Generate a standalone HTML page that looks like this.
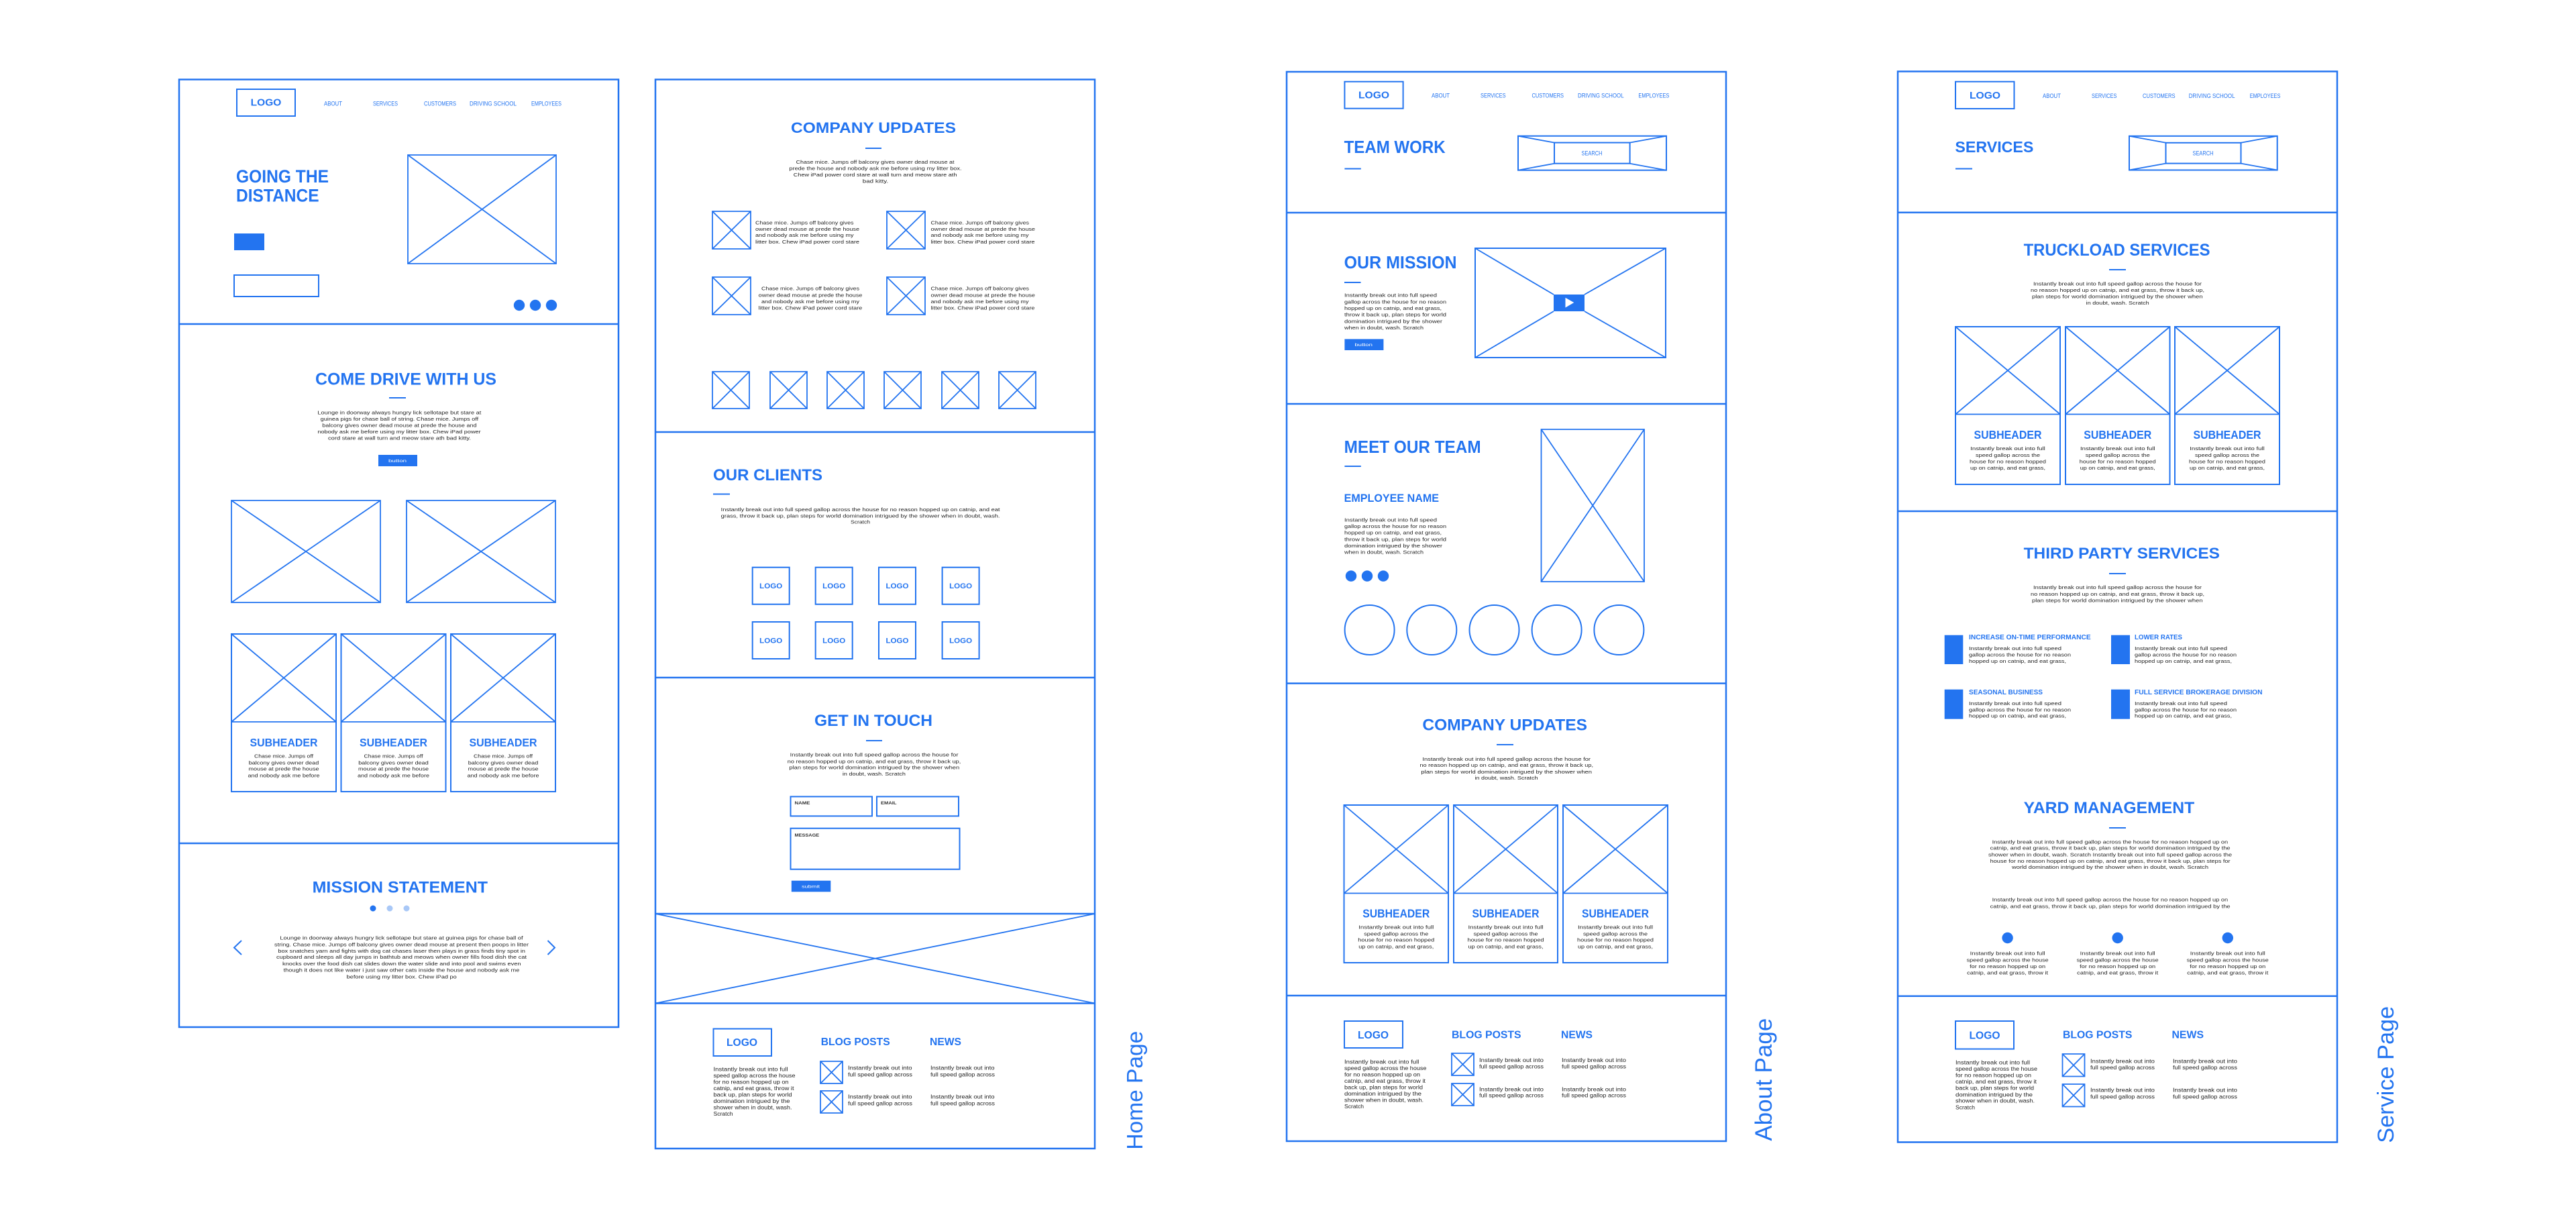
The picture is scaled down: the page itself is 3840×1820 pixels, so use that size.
<!DOCTYPE html>
<html>
<head>
<meta charset="utf-8">
<style>
html,body{margin:0;padding:0;background:#fff;}
body{width:3840px;height:1820px;overflow:hidden;}
svg{display:block;}
.p{fill:none;stroke:#2374f0;stroke-width:2.5}
.b{fill:none;stroke:#2374f0;stroke-width:2}
.x{fill:none;stroke:#2374f0;stroke-width:1.8}
.f{fill:#2374f0;stroke:none}
text{font-family:"Liberation Sans",Arial,sans-serif}
.h{font-weight:bold;fill:#2374f0}
.n{fill:#2374f0;font-size:9.5px}
.t{fill:#222;font-size:7.5px}
.ft{fill:#222;font-size:8px}
.w{fill:#fff;font-size:6.5px}
.lb{fill:#333;font-size:6px;font-weight:bold}
.lab{fill:#2374f0;font-weight:normal}
</style>
</head>
<body>
<svg width="3840" height="1820" viewBox="0 0 3840 1820" xmlns="http://www.w3.org/2000/svg">
<rect x="0" y="0" width="3840" height="1820" fill="#fff"/>

<!-- ================= HOME PAGE PANEL 1 ================= -->
<rect class="p" x="267" y="118.5" width="655" height="1412.5"/>
<line class="p" x1="267" y1="483" x2="922" y2="483"/>
<line class="p" x1="267" y1="1257" x2="922" y2="1257"/>

<rect class="b" x="353" y="133" width="87" height="40"/>
<text class="h" x="373.7" y="157.7" font-size="14.5" textLength="45.6" lengthAdjust="spacingAndGlyphs">LOGO</text>
<text class="n" x="483" y="157.5" textLength="27" lengthAdjust="spacingAndGlyphs">ABOUT</text>
<text class="n" x="556" y="157.5" textLength="37" lengthAdjust="spacingAndGlyphs">SERVICES</text>
<text class="n" x="632" y="157.5" textLength="48" lengthAdjust="spacingAndGlyphs">CUSTOMERS</text>
<text class="n" x="700" y="157.5" textLength="70" lengthAdjust="spacingAndGlyphs">DRIVING SCHOOL</text>
<text class="n" x="792" y="157.5" textLength="45" lengthAdjust="spacingAndGlyphs">EMPLOYEES</text>

<text class="h" x="352" y="272" font-size="27" textLength="138" lengthAdjust="spacingAndGlyphs">GOING THE</text>
<text class="h" x="352" y="300.5" font-size="27" textLength="123.6" lengthAdjust="spacingAndGlyphs">DISTANCE</text>
<rect class="f" x="349" y="348" width="45" height="25"/>
<rect class="b" x="349" y="410" width="126" height="32"/>
<path class="x" d="M608 231h221v162h-221zl221 162m0-162l-221 162"/>
<circle class="f" cx="774" cy="455" r="8.2"/>
<circle class="f" cx="798" cy="455" r="8.2"/>
<circle class="f" cx="822" cy="455" r="8.2"/>

<text class="h" x="470" y="573.5" font-size="25" textLength="270" lengthAdjust="spacingAndGlyphs">COME DRIVE WITH US</text>
<rect class="f" x="580" y="592" width="25" height="2"/>
<text class="t" x="473.4" y="617.5" textLength="244" lengthAdjust="spacingAndGlyphs">Lounge in doorway always hungry lick sellotape but stare at</text>
<text class="t" x="477.7" y="627" textLength="235.5" lengthAdjust="spacingAndGlyphs">guinea pigs for chase ball of string. Chase mice. Jumps off</text>
<text class="t" x="480.3" y="636.5" textLength="230.3" lengthAdjust="spacingAndGlyphs">balcony gives owner dead mouse at prede the house and</text>
<text class="t" x="473.4" y="646" textLength="243.3" lengthAdjust="spacingAndGlyphs">nobody ask me before using my litter box. Chew iPad power</text>
<text class="t" x="489" y="655.5" textLength="213" lengthAdjust="spacingAndGlyphs">cord stare at wall turn and meow stare ath bad kitty.</text>
<rect class="f" x="564" y="678" width="58" height="17"/>
<text class="w" x="579" y="689" textLength="27" lengthAdjust="spacingAndGlyphs">button</text>

<path class="x" d="M345 746h222v152h-222zl222 152m0-152l-222 152"/>
<path class="x" d="M606 746h222v152h-222zl222 152m0-152l-222 152"/>

<rect class="b" x="345" y="945" width="156" height="235"/>
<rect class="b" x="508.5" y="945" width="156" height="235"/>
<rect class="b" x="672" y="945" width="156" height="235"/>
<path class="x" d="M345 945h156v131h-156zl156 131m0-131l-156 131"/>
<path class="x" d="M508.5 945h156v131h-156zl156 131m0-131l-156 131"/>
<path class="x" d="M672 945h156v131h-156zl156 131m0-131l-156 131"/>
<text class="h" x="372.5" y="1112.5" font-size="17" textLength="101" lengthAdjust="spacingAndGlyphs">SUBHEADER</text>
<text class="h" x="536" y="1112.5" font-size="17" textLength="101" lengthAdjust="spacingAndGlyphs">SUBHEADER</text>
<text class="h" x="699.5" y="1112.5" font-size="17" textLength="101" lengthAdjust="spacingAndGlyphs">SUBHEADER</text>
<text class="t" x="379" y="1129.5" textLength="88" lengthAdjust="spacingAndGlyphs">Chase mice. Jumps off</text>
<text class="t" x="370.75" y="1139.5" textLength="104.5" lengthAdjust="spacingAndGlyphs">balcony gives owner dead</text>
<text class="t" x="370.5" y="1148.5" textLength="105" lengthAdjust="spacingAndGlyphs">mouse at prede the house</text>
<text class="t" x="369.5" y="1158.5" textLength="107" lengthAdjust="spacingAndGlyphs">and nobody ask me before</text>
<text class="t" x="542.5" y="1129.5" textLength="88" lengthAdjust="spacingAndGlyphs">Chase mice. Jumps off</text>
<text class="t" x="534.25" y="1139.5" textLength="104.5" lengthAdjust="spacingAndGlyphs">balcony gives owner dead</text>
<text class="t" x="534" y="1148.5" textLength="105" lengthAdjust="spacingAndGlyphs">mouse at prede the house</text>
<text class="t" x="533" y="1158.5" textLength="107" lengthAdjust="spacingAndGlyphs">and nobody ask me before</text>
<text class="t" x="706" y="1129.5" textLength="88" lengthAdjust="spacingAndGlyphs">Chase mice. Jumps off</text>
<text class="t" x="697.75" y="1139.5" textLength="104.5" lengthAdjust="spacingAndGlyphs">balcony gives owner dead</text>
<text class="t" x="697.5" y="1148.5" textLength="105" lengthAdjust="spacingAndGlyphs">mouse at prede the house</text>
<text class="t" x="696.5" y="1158.5" textLength="107" lengthAdjust="spacingAndGlyphs">and nobody ask me before</text>

<text class="h" x="465.6" y="1330.5" font-size="24" textLength="261.4" lengthAdjust="spacingAndGlyphs">MISSION STATEMENT</text>
<circle class="f" cx="556" cy="1354" r="4.5"/>
<circle cx="581" cy="1354" r="4.5" fill="#a9c8f7"/>
<circle cx="606" cy="1354" r="4.5" fill="#a9c8f7"/>
<polyline class="b" points="360,1402 349,1412.5 360,1423"/>
<polyline class="b" points="816.5,1402 827,1412.5 816.5,1423"/>
<text class="t" x="417.4" y="1400.7" textLength="362.2" lengthAdjust="spacingAndGlyphs">Lounge in doorway always hungry lick sellotape but stare at guinea pigs for chase ball of</text>
<text class="t" x="409" y="1410.5" textLength="379" lengthAdjust="spacingAndGlyphs">string. Chase mice. Jumps off balcony gives owner dead mouse at present then poops in litter</text>
<text class="t" x="414.4" y="1419.8" textLength="368.6" lengthAdjust="spacingAndGlyphs">box snatches yarn and fights with dog cat chases laser then plays in grass finds tiny spot in</text>
<text class="t" x="412" y="1429.2" textLength="373" lengthAdjust="spacingAndGlyphs">cupboard and sleeps all day jumps in bathtub and meows when owner fills food dish the cat</text>
<text class="t" x="421" y="1439.1" textLength="355.5" lengthAdjust="spacingAndGlyphs">knocks over the food dish cat slides down the water slide and into pool and swims even</text>
<text class="t" x="422.6" y="1448.5" textLength="351.8" lengthAdjust="spacingAndGlyphs">though it does not like water i just saw other cats inside the house and nobody ask me</text>
<text class="t" x="516.7" y="1458.3" textLength="164" lengthAdjust="spacingAndGlyphs">before using my litter box. Chew iPad po</text>

<!-- ================= HOME PAGE PANEL 2 ================= -->
<rect class="p" x="977" y="118.5" width="655" height="1593.5"/>
<line class="p" x1="977" y1="644" x2="1632" y2="644"/>
<line class="p" x1="977" y1="1010" x2="1632" y2="1010"/>
<line class="p" x1="977" y1="1362" x2="1632" y2="1362"/>
<line class="p" x1="977" y1="1495.5" x2="1632" y2="1495.5"/>
<path class="x" d="M977 1362L1632 1495.5M1632 1362L977 1495.5"/>

<text class="h" x="1179" y="198" font-size="22.5" textLength="246" lengthAdjust="spacingAndGlyphs">COMPANY UPDATES</text>
<rect class="f" x="1290" y="220" width="24" height="2"/>
<text class="t" x="1186.6" y="244" textLength="235.9" lengthAdjust="spacingAndGlyphs">Chase mice. Jumps off balcony gives owner dead mouse at</text>
<text class="t" x="1176.4" y="253.5" textLength="257.2" lengthAdjust="spacingAndGlyphs">prede the house and nobody ask me before using my litter box.</text>
<text class="t" x="1182.8" y="263" textLength="243.6" lengthAdjust="spacingAndGlyphs">Chew iPad power cord stare at wall turn and meow stare ath</text>
<text class="t" x="1285.8" y="272.5" textLength="38.4" lengthAdjust="spacingAndGlyphs">bad kitty.</text>

<path class="x" d="M1062 315h57v56h-57zl57 56m0-56l-57 56"/>
<path class="x" d="M1322 315h57v56h-57zl57 56m0-56l-57 56"/>
<path class="x" d="M1062 413h57v56h-57zl57 56m0-56l-57 56"/>
<path class="x" d="M1322 413h57v56h-57zl57 56m0-56l-57 56"/>

<text class="t" x="1126" y="334.3" textLength="146.5" lengthAdjust="spacingAndGlyphs">Chase mice. Jumps off balcony gives</text>
<text class="t" x="1126" y="343.9" textLength="155" lengthAdjust="spacingAndGlyphs">owner dead mouse at prede the house</text>
<text class="t" x="1126" y="353.2" textLength="146.5" lengthAdjust="spacingAndGlyphs">and nobody ask me before using my</text>
<text class="t" x="1126" y="362.8" textLength="155" lengthAdjust="spacingAndGlyphs">litter box. Chew iPad power cord stare</text>
<text class="t" x="1387.5" y="334.3" textLength="146.5" lengthAdjust="spacingAndGlyphs">Chase mice. Jumps off balcony gives</text>
<text class="t" x="1387.5" y="343.9" textLength="155.5" lengthAdjust="spacingAndGlyphs">owner dead mouse at prede the house</text>
<text class="t" x="1387.5" y="353.2" textLength="146" lengthAdjust="spacingAndGlyphs">and nobody ask me before using my</text>
<text class="t" x="1387.5" y="362.8" textLength="155" lengthAdjust="spacingAndGlyphs">litter box. Chew iPad power cord stare</text>
<text class="t" x="1135" y="432.5" textLength="146" lengthAdjust="spacingAndGlyphs">Chase mice. Jumps off balcony gives</text>
<text class="t" x="1130.7" y="442.5" textLength="154.7" lengthAdjust="spacingAndGlyphs">owner dead mouse at prede the house</text>
<text class="t" x="1135" y="452" textLength="146" lengthAdjust="spacingAndGlyphs">and nobody ask me before using my</text>
<text class="t" x="1130.7" y="461.5" textLength="154.7" lengthAdjust="spacingAndGlyphs">litter box. Chew iPad power cord stare</text>
<text class="t" x="1387.5" y="432.5" textLength="146.5" lengthAdjust="spacingAndGlyphs">Chase mice. Jumps off balcony gives</text>
<text class="t" x="1387.5" y="442.5" textLength="155.5" lengthAdjust="spacingAndGlyphs">owner dead mouse at prede the house</text>
<text class="t" x="1387.5" y="452" textLength="146" lengthAdjust="spacingAndGlyphs">and nobody ask me before using my</text>
<text class="t" x="1387.5" y="461.5" textLength="155" lengthAdjust="spacingAndGlyphs">litter box. Chew iPad power cord stare</text>

<path class="x" d="M1062 554h55v55h-55zl55 55m0-55l-55 55"/>
<path class="x" d="M1148 554h55v55h-55zl55 55m0-55l-55 55"/>
<path class="x" d="M1233 554h55v55h-55zl55 55m0-55l-55 55"/>
<path class="x" d="M1318 554h55v55h-55zl55 55m0-55l-55 55"/>
<path class="x" d="M1404 554h55v55h-55zl55 55m0-55l-55 55"/>
<path class="x" d="M1489 554h55v55h-55zl55 55m0-55l-55 55"/>

<text class="h" x="1063" y="716" font-size="24" textLength="163" lengthAdjust="spacingAndGlyphs">OUR CLIENTS</text>
<rect class="f" x="1063" y="735.5" width="25" height="2"/>
<text class="t" x="1074.7" y="762" textLength="415.8" lengthAdjust="spacingAndGlyphs">Instantly break out into full speed gallop across the house for no reason hopped up on catnip, and eat</text>
<text class="t" x="1074.7" y="771.5" textLength="415.8" lengthAdjust="spacingAndGlyphs">grass, throw it back up, plan steps for world domination intrigued by the shower when in doubt, wash.</text>
<text class="t" x="1268" y="780.7" textLength="29" lengthAdjust="spacingAndGlyphs">Scratch</text>

<rect class="b" x="1121.7" y="845.7" width="55" height="55"/>
<rect class="b" x="1215.7" y="845.7" width="55" height="55"/>
<rect class="b" x="1310" y="845.7" width="55" height="55"/>
<rect class="b" x="1404.6" y="845.7" width="55" height="55"/>
<rect class="b" x="1121.7" y="927" width="55" height="55"/>
<rect class="b" x="1215.7" y="927" width="55" height="55"/>
<rect class="b" x="1310" y="927" width="55" height="55"/>
<rect class="b" x="1404.6" y="927" width="55" height="55"/>
<text class="h" x="1132.2" y="877" font-size="11" textLength="34" lengthAdjust="spacingAndGlyphs">LOGO</text>
<text class="h" x="1226.2" y="877" font-size="11" textLength="34" lengthAdjust="spacingAndGlyphs">LOGO</text>
<text class="h" x="1320.5" y="877" font-size="11" textLength="34" lengthAdjust="spacingAndGlyphs">LOGO</text>
<text class="h" x="1415.1" y="877" font-size="11" textLength="34" lengthAdjust="spacingAndGlyphs">LOGO</text>
<text class="h" x="1132.2" y="958.5" font-size="11" textLength="34" lengthAdjust="spacingAndGlyphs">LOGO</text>
<text class="h" x="1226.2" y="958.5" font-size="11" textLength="34" lengthAdjust="spacingAndGlyphs">LOGO</text>
<text class="h" x="1320.5" y="958.5" font-size="11" textLength="34" lengthAdjust="spacingAndGlyphs">LOGO</text>
<text class="h" x="1415.1" y="958.5" font-size="11" textLength="34" lengthAdjust="spacingAndGlyphs">LOGO</text>

<text class="h" x="1214" y="1082" font-size="24" textLength="176" lengthAdjust="spacingAndGlyphs">GET IN TOUCH</text>
<rect class="f" x="1291" y="1103" width="24" height="2"/>
<text class="t" x="1177.7" y="1127.5" textLength="250.8" lengthAdjust="spacingAndGlyphs">Instantly break out into full speed gallop across the house for</text>
<text class="t" x="1173.8" y="1137.4" textLength="258.5" lengthAdjust="spacingAndGlyphs">no reason hopped up on catnip, and eat grass, throw it back up,</text>
<text class="t" x="1176.4" y="1146.3" textLength="253.8" lengthAdjust="spacingAndGlyphs">plan steps for world domination intrigued by the shower when</text>
<text class="t" x="1255.9" y="1155.9" textLength="94" lengthAdjust="spacingAndGlyphs">in doubt, wash. Scratch</text>

<rect class="b" x="1178.5" y="1187.4" width="121.5" height="29"/>
<rect class="b" x="1307" y="1187.4" width="122" height="29"/>
<rect class="b" x="1178.5" y="1234.7" width="252" height="61"/>
<text class="lb" x="1184.5" y="1198.8" textLength="23" lengthAdjust="spacingAndGlyphs">NAME</text>
<text class="lb" x="1313" y="1198.8" textLength="23.5" lengthAdjust="spacingAndGlyphs">EMAIL</text>
<text class="lb" x="1184.5" y="1247" textLength="36.7" lengthAdjust="spacingAndGlyphs">MESSAGE</text>
<rect class="f" x="1179.8" y="1312.7" width="58.5" height="16.6"/>
<text class="w" x="1195" y="1323.5" textLength="27" lengthAdjust="spacingAndGlyphs">submit</text>

<!-- home footer -->
<rect class="b" x="1063.5" y="1533.5" width="86.5" height="40.5"/>
<text class="h" x="1083" y="1559" font-size="16" textLength="46" lengthAdjust="spacingAndGlyphs">LOGO</text>
<text class="ft" x="1063.5" y="1596.5" textLength="111" lengthAdjust="spacingAndGlyphs">Instantly break out into full</text>
<text class="ft" x="1063.5" y="1606" textLength="122" lengthAdjust="spacingAndGlyphs">speed gallop across the house</text>
<text class="ft" x="1063.5" y="1615.5" textLength="112" lengthAdjust="spacingAndGlyphs">for no reason hopped up on</text>
<text class="ft" x="1063.5" y="1625" textLength="120" lengthAdjust="spacingAndGlyphs">catnip, and eat grass, throw it</text>
<text class="ft" x="1063.5" y="1634.5" textLength="117" lengthAdjust="spacingAndGlyphs">back up, plan steps for world</text>
<text class="ft" x="1063.5" y="1644" textLength="114" lengthAdjust="spacingAndGlyphs">domination intrigued by the</text>
<text class="ft" x="1063.5" y="1653.5" textLength="117" lengthAdjust="spacingAndGlyphs">shower when in doubt, wash.</text>
<text class="ft" x="1063.5" y="1663.2" textLength="29" lengthAdjust="spacingAndGlyphs">Scratch</text>
<text class="h" x="1223.7" y="1558" font-size="16" textLength="103" lengthAdjust="spacingAndGlyphs">BLOG POSTS</text>
<text class="h" x="1386" y="1558" font-size="16" textLength="47" lengthAdjust="spacingAndGlyphs">NEWS</text>
<path class="x" d="M1223 1582h33v33h-33zl33 33m0-33l-33 33"/>
<path class="x" d="M1223 1626h33v33h-33zl33 33m0-33l-33 33"/>
<text class="ft" x="1264" y="1594.5" textLength="95.5" lengthAdjust="spacingAndGlyphs">Instantly break out into</text>
<text class="ft" x="1264" y="1604.5" textLength="96" lengthAdjust="spacingAndGlyphs">full speed gallop across</text>
<text class="ft" x="1264" y="1637.5" textLength="95.5" lengthAdjust="spacingAndGlyphs">Instantly break out into</text>
<text class="ft" x="1264" y="1647.5" textLength="96" lengthAdjust="spacingAndGlyphs">full speed gallop across</text>
<text class="ft" x="1387" y="1594.5" textLength="95.5" lengthAdjust="spacingAndGlyphs">Instantly break out into</text>
<text class="ft" x="1387" y="1604.5" textLength="96" lengthAdjust="spacingAndGlyphs">full speed gallop across</text>
<text class="ft" x="1387" y="1637.5" textLength="95.5" lengthAdjust="spacingAndGlyphs">Instantly break out into</text>
<text class="ft" x="1387" y="1647.5" textLength="96" lengthAdjust="spacingAndGlyphs">full speed gallop across</text>

<text class="lab" transform="translate(1703,1713.7) rotate(-90)" font-size="33.5" textLength="177" lengthAdjust="spacingAndGlyphs">Home Page</text>

<!-- ================= ABOUT PAGE ================= -->
<rect class="p" x="1918" y="107" width="655" height="1594"/>
<line class="p" x1="1918" y1="317" x2="2573" y2="317"/>
<line class="p" x1="1918" y1="602" x2="2573" y2="602"/>
<line class="p" x1="1918" y1="1018.6" x2="2573" y2="1018.6"/>
<line class="p" x1="1918" y1="1484" x2="2573" y2="1484"/>

<rect class="b" x="2004.4" y="121.7" width="87.2" height="40"/>
<text class="h" x="2025" y="146.5" font-size="14.5" textLength="46" lengthAdjust="spacingAndGlyphs">LOGO</text>
<text class="n" x="2134" y="145.6" textLength="27" lengthAdjust="spacingAndGlyphs">ABOUT</text>
<text class="n" x="2207" y="145.6" textLength="37.6" lengthAdjust="spacingAndGlyphs">SERVICES</text>
<text class="n" x="2283.5" y="145.6" textLength="47.5" lengthAdjust="spacingAndGlyphs">CUSTOMERS</text>
<text class="n" x="2352" y="145.6" textLength="68.6" lengthAdjust="spacingAndGlyphs">DRIVING SCHOOL</text>
<text class="n" x="2442.4" y="145.6" textLength="46" lengthAdjust="spacingAndGlyphs">EMPLOYEES</text>

<text class="h" x="2003.6" y="228" font-size="26" textLength="151" lengthAdjust="spacingAndGlyphs">TEAM WORK</text>
<rect class="f" x="2004.4" y="250.5" width="24.4" height="2"/>
<rect class="b" x="2263" y="202.7" width="221" height="51"/>
<rect class="b" x="2317" y="212.6" width="112.6" height="31.1"/>
<path class="x" d="M2263 202.7L2317 212.6M2263 253.7L2317 243.7M2484 202.7L2429.6 212.6M2484 253.7L2429.6 243.7"/>
<text class="n" x="2357.5" y="231.5" font-size="6.5" textLength="31" lengthAdjust="spacingAndGlyphs">SEARCH</text>

<text class="h" x="2003.6" y="400" font-size="25.5" textLength="168" lengthAdjust="spacingAndGlyphs">OUR MISSION</text>
<rect class="f" x="2004" y="420" width="24.5" height="2"/>
<text class="t" x="2004" y="442.5" textLength="138" lengthAdjust="spacingAndGlyphs">Instantly break out into full speed</text>
<text class="t" x="2004" y="452.5" textLength="152" lengthAdjust="spacingAndGlyphs">gallop across the house for no reason</text>
<text class="t" x="2004" y="462" textLength="145" lengthAdjust="spacingAndGlyphs">hopped up on catnip, and eat grass,</text>
<text class="t" x="2004" y="471.5" textLength="152" lengthAdjust="spacingAndGlyphs">throw it back up, plan steps for world</text>
<text class="t" x="2004" y="481.5" textLength="146" lengthAdjust="spacingAndGlyphs">domination intrigued by the shower</text>
<text class="t" x="2004" y="491" textLength="118" lengthAdjust="spacingAndGlyphs">when in doubt, wash. Scratch</text>
<rect class="f" x="2004.4" y="505.4" width="58" height="16.6"/>
<text class="w" x="2019.4" y="516" textLength="26.5" lengthAdjust="spacingAndGlyphs">button</text>

<rect class="b" x="2199" y="370" width="284" height="163"/>
<path class="x" d="M2199 370L2316 439M2483 370L2362 439M2199 533L2316 464M2483 533L2362 464"/>
<rect class="f" x="2316" y="439" width="46" height="25"/>
<polygon points="2333.5,443.8 2333.5,458.5 2346.3,451" fill="#fff"/>

<text class="h" x="2003.6" y="675" font-size="26" textLength="204" lengthAdjust="spacingAndGlyphs">MEET OUR TEAM</text>
<rect class="f" x="2004.4" y="694" width="24.4" height="2"/>
<text class="h" x="2003.6" y="748" font-size="17" textLength="141.4" lengthAdjust="spacingAndGlyphs">EMPLOYEE NAME</text>
<text class="t" x="2004" y="777.5" textLength="138" lengthAdjust="spacingAndGlyphs">Instantly break out into full speed</text>
<text class="t" x="2004" y="787.2" textLength="152" lengthAdjust="spacingAndGlyphs">gallop across the house for no reason</text>
<text class="t" x="2004" y="796.5" textLength="145" lengthAdjust="spacingAndGlyphs">hopped up on catnip, and eat grass,</text>
<text class="t" x="2004" y="806.3" textLength="152" lengthAdjust="spacingAndGlyphs">throw it back up, plan steps for world</text>
<text class="t" x="2004" y="815.9" textLength="146" lengthAdjust="spacingAndGlyphs">domination intrigued by the shower</text>
<text class="t" x="2004" y="825.5" textLength="118" lengthAdjust="spacingAndGlyphs">when in doubt, wash. Scratch</text>
<circle class="f" cx="2014" cy="858.6" r="8.2"/>
<circle class="f" cx="2038" cy="858.6" r="8.2"/>
<circle class="f" cx="2062" cy="858.6" r="8.2"/>
<path class="x" d="M2297.5 640h153.5v227h-153.5zl153.5 227m0-227l-153.5 227"/>
<circle class="b" cx="2041.6" cy="939" r="37"/>
<circle class="b" cx="2134.3" cy="939" r="37"/>
<circle class="b" cx="2227.5" cy="939" r="37"/>
<circle class="b" cx="2320.6" cy="939" r="37"/>
<circle class="b" cx="2413.4" cy="939" r="37"/>

<text class="h" x="2120.4" y="1088.5" font-size="24" textLength="245.6" lengthAdjust="spacingAndGlyphs">COMPANY UPDATES</text>
<rect class="f" x="2231" y="1109" width="25" height="2"/>
<text class="t" x="2120.4" y="1133.8" textLength="250.6" lengthAdjust="spacingAndGlyphs">Instantly break out into full speed gallop across the house for</text>
<text class="t" x="2116.4" y="1143.1" textLength="258.6" lengthAdjust="spacingAndGlyphs">no reason hopped up on catnip, and eat grass, throw it back up,</text>
<text class="t" x="2118.4" y="1152.9" textLength="254.6" lengthAdjust="spacingAndGlyphs">plan steps for world domination intrigued by the shower when</text>
<text class="t" x="2198.5" y="1162.2" textLength="94" lengthAdjust="spacingAndGlyphs">in doubt, wash. Scratch</text>

<rect class="b" x="2003.5" y="1200" width="155.5" height="235"/>
<rect class="b" x="2167" y="1200" width="155" height="235"/>
<rect class="b" x="2330" y="1200" width="156" height="235"/>
<path class="x" d="M2003.5 1200h155.5v131.5h-155.5zl155.5 131.5m0-131.5l-155.5 131.5"/>
<path class="x" d="M2167 1200h155v131.5h-155zl155 131.5m0-131.5l-155 131.5"/>
<path class="x" d="M2330 1200h156v131.5h-156zl156 131.5m0-131.5l-156 131.5"/>
<text class="h" x="2031.25" y="1367.5" font-size="17.5" textLength="100" lengthAdjust="spacingAndGlyphs">SUBHEADER</text>
<text class="h" x="2194.5" y="1367.5" font-size="17.5" textLength="100" lengthAdjust="spacingAndGlyphs">SUBHEADER</text>
<text class="h" x="2358" y="1367.5" font-size="17.5" textLength="100" lengthAdjust="spacingAndGlyphs">SUBHEADER</text>
<text class="t" x="2025.25" y="1384.5" textLength="112" lengthAdjust="spacingAndGlyphs">Instantly break out into full</text>
<text class="t" x="2033.25" y="1394.5" textLength="96" lengthAdjust="spacingAndGlyphs">speed gallop across the</text>
<text class="t" x="2024.25" y="1403.5" textLength="114" lengthAdjust="spacingAndGlyphs">house for no reason hopped</text>
<text class="t" x="2025.25" y="1413.5" textLength="112" lengthAdjust="spacingAndGlyphs">up on catnip, and eat grass,</text>
<text class="t" x="2188.5" y="1384.5" textLength="112" lengthAdjust="spacingAndGlyphs">Instantly break out into full</text>
<text class="t" x="2196.5" y="1394.5" textLength="96" lengthAdjust="spacingAndGlyphs">speed gallop across the</text>
<text class="t" x="2187.5" y="1403.5" textLength="114" lengthAdjust="spacingAndGlyphs">house for no reason hopped</text>
<text class="t" x="2188.5" y="1413.5" textLength="112" lengthAdjust="spacingAndGlyphs">up on catnip, and eat grass,</text>
<text class="t" x="2352" y="1384.5" textLength="112" lengthAdjust="spacingAndGlyphs">Instantly break out into full</text>
<text class="t" x="2360" y="1394.5" textLength="96" lengthAdjust="spacingAndGlyphs">speed gallop across the</text>
<text class="t" x="2351" y="1403.5" textLength="114" lengthAdjust="spacingAndGlyphs">house for no reason hopped</text>
<text class="t" x="2352" y="1413.5" textLength="112" lengthAdjust="spacingAndGlyphs">up on catnip, and eat grass,</text>

<!-- about footer -->
<rect class="b" x="2004" y="1522" width="87" height="40"/>
<text class="h" x="2024" y="1548" font-size="16" textLength="46" lengthAdjust="spacingAndGlyphs">LOGO</text>
<text class="ft" x="2004" y="1585.5" textLength="111.4" lengthAdjust="spacingAndGlyphs">Instantly break out into full</text>
<text class="ft" x="2004" y="1595" textLength="122.4" lengthAdjust="spacingAndGlyphs">speed gallop across the house</text>
<text class="ft" x="2004" y="1604.5" textLength="113" lengthAdjust="spacingAndGlyphs">for no reason hopped up on</text>
<text class="ft" x="2004" y="1614" textLength="121" lengthAdjust="spacingAndGlyphs">catnip, and eat grass, throw it</text>
<text class="ft" x="2004" y="1623.5" textLength="117" lengthAdjust="spacingAndGlyphs">back up, plan steps for world</text>
<text class="ft" x="2004" y="1633" textLength="115" lengthAdjust="spacingAndGlyphs">domination intrigued by the</text>
<text class="ft" x="2004" y="1642.5" textLength="118" lengthAdjust="spacingAndGlyphs">shower when in doubt, wash.</text>
<text class="ft" x="2004" y="1652" textLength="29" lengthAdjust="spacingAndGlyphs">Scratch</text>
<text class="h" x="2164" y="1547.5" font-size="16" textLength="103.6" lengthAdjust="spacingAndGlyphs">BLOG POSTS</text>
<text class="h" x="2327" y="1547.5" font-size="16" textLength="47" lengthAdjust="spacingAndGlyphs">NEWS</text>
<path class="x" d="M2164 1570h33v33h-33zl33 33m0-33l-33 33"/>
<path class="x" d="M2164 1615h33v33h-33zl33 33m0-33l-33 33"/>
<text class="ft" x="2205" y="1583" textLength="96" lengthAdjust="spacingAndGlyphs">Instantly break out into</text>
<text class="ft" x="2205" y="1592.5" textLength="96" lengthAdjust="spacingAndGlyphs">full speed gallop across</text>
<text class="ft" x="2205" y="1626.5" textLength="96" lengthAdjust="spacingAndGlyphs">Instantly break out into</text>
<text class="ft" x="2205" y="1635.5" textLength="96" lengthAdjust="spacingAndGlyphs">full speed gallop across</text>
<text class="ft" x="2328" y="1583" textLength="96" lengthAdjust="spacingAndGlyphs">Instantly break out into</text>
<text class="ft" x="2328" y="1592.5" textLength="96" lengthAdjust="spacingAndGlyphs">full speed gallop across</text>
<text class="ft" x="2328" y="1626.5" textLength="96" lengthAdjust="spacingAndGlyphs">Instantly break out into</text>
<text class="ft" x="2328" y="1635.5" textLength="96" lengthAdjust="spacingAndGlyphs">full speed gallop across</text>

<text class="lab" transform="translate(2641,1700.7) rotate(-90)" font-size="35" textLength="183" lengthAdjust="spacingAndGlyphs">About Page</text>

<!-- ================= SERVICE PAGE ================= -->
<rect class="p" x="2829" y="106.5" width="655" height="1596"/>
<line class="p" x1="2829" y1="316.8" x2="3484" y2="316.8"/>
<line class="p" x1="2829" y1="762" x2="3484" y2="762"/>
<line class="p" x1="2829" y1="1484.7" x2="3484" y2="1484.7"/>

<rect class="b" x="2915" y="121.7" width="87.5" height="40.3"/>
<text class="h" x="2936" y="147" font-size="14.5" textLength="46" lengthAdjust="spacingAndGlyphs">LOGO</text>
<text class="n" x="3045" y="146" textLength="27" lengthAdjust="spacingAndGlyphs">ABOUT</text>
<text class="n" x="3118" y="146" textLength="37.4" lengthAdjust="spacingAndGlyphs">SERVICES</text>
<text class="n" x="3194" y="146" textLength="48.6" lengthAdjust="spacingAndGlyphs">CUSTOMERS</text>
<text class="n" x="3262.7" y="146" textLength="68.8" lengthAdjust="spacingAndGlyphs">DRIVING SCHOOL</text>
<text class="n" x="3353.7" y="146" textLength="45.7" lengthAdjust="spacingAndGlyphs">EMPLOYEES</text>

<text class="h" x="2914.4" y="227" font-size="23" textLength="117" lengthAdjust="spacingAndGlyphs">SERVICES</text>
<rect class="f" x="2915" y="250.5" width="25" height="2"/>
<rect class="b" x="3174" y="202.8" width="220.7" height="50.7"/>
<rect class="b" x="3228.5" y="212.8" width="112" height="30.8"/>
<path class="x" d="M3174 202.8L3228.5 212.8M3174 253.5L3228.5 243.6M3394.7 202.8L3340.5 212.8M3394.7 253.5L3340.5 243.6"/>
<text class="n" x="3268.5" y="231.5" font-size="6.5" textLength="31" lengthAdjust="spacingAndGlyphs">SEARCH</text>

<text class="h" x="3016.6" y="381" font-size="25" textLength="278" lengthAdjust="spacingAndGlyphs">TRUCKLOAD SERVICES</text>
<rect class="f" x="3144" y="401" width="25" height="2"/>
<text class="t" x="3031" y="425.5" textLength="251" lengthAdjust="spacingAndGlyphs">Instantly break out into full speed gallop across the house for</text>
<text class="t" x="3027" y="435.1" textLength="259" lengthAdjust="spacingAndGlyphs">no reason hopped up on catnip, and eat grass, throw it back up,</text>
<text class="t" x="3029" y="444.5" textLength="254.6" lengthAdjust="spacingAndGlyphs">plan steps for world domination intrigued by the shower when</text>
<text class="t" x="3109.7" y="454.2" textLength="94" lengthAdjust="spacingAndGlyphs">in doubt, wash. Scratch</text>

<rect class="b" x="2915" y="487" width="156" height="235"/>
<rect class="b" x="3079" y="487" width="155.5" height="235"/>
<rect class="b" x="3242" y="487" width="156" height="235"/>
<path class="x" d="M2915 487h156v130.5h-156zl156 130.5m0-130.5l-156 130.5"/>
<path class="x" d="M3079 487h155.5v130.5h-155.5zl155.5 130.5m0-130.5l-155.5 130.5"/>
<path class="x" d="M3242 487h156v130.5h-156zl156 130.5m0-130.5l-156 130.5"/>
<text class="h" x="2942.5" y="653.8" font-size="17.5" textLength="101" lengthAdjust="spacingAndGlyphs">SUBHEADER</text>
<text class="h" x="3106.25" y="653.8" font-size="17.5" textLength="101" lengthAdjust="spacingAndGlyphs">SUBHEADER</text>
<text class="h" x="3269.5" y="653.8" font-size="17.5" textLength="101" lengthAdjust="spacingAndGlyphs">SUBHEADER</text>
<text class="t" x="2937.25" y="671" textLength="111.5" lengthAdjust="spacingAndGlyphs">Instantly break out into full</text>
<text class="t" x="2945" y="681" textLength="96" lengthAdjust="spacingAndGlyphs">speed gallop across the</text>
<text class="t" x="2936" y="690.5" textLength="114" lengthAdjust="spacingAndGlyphs">house for no reason hopped</text>
<text class="t" x="2937" y="700" textLength="112" lengthAdjust="spacingAndGlyphs">up on catnip, and eat grass,</text>
<text class="t" x="3101" y="671" textLength="111.5" lengthAdjust="spacingAndGlyphs">Instantly break out into full</text>
<text class="t" x="3108.75" y="681" textLength="96" lengthAdjust="spacingAndGlyphs">speed gallop across the</text>
<text class="t" x="3099.75" y="690.5" textLength="114" lengthAdjust="spacingAndGlyphs">house for no reason hopped</text>
<text class="t" x="3100.75" y="700" textLength="112" lengthAdjust="spacingAndGlyphs">up on catnip, and eat grass,</text>
<text class="t" x="3264.25" y="671" textLength="111.5" lengthAdjust="spacingAndGlyphs">Instantly break out into full</text>
<text class="t" x="3272" y="681" textLength="96" lengthAdjust="spacingAndGlyphs">speed gallop across the</text>
<text class="t" x="3263" y="690.5" textLength="114" lengthAdjust="spacingAndGlyphs">house for no reason hopped</text>
<text class="t" x="3264" y="700" textLength="112" lengthAdjust="spacingAndGlyphs">up on catnip, and eat grass,</text>

<text class="h" x="3016.6" y="832.6" font-size="23" textLength="292.4" lengthAdjust="spacingAndGlyphs">THIRD PARTY SERVICES</text>
<rect class="f" x="3144" y="854" width="25" height="2"/>
<text class="t" x="3031" y="878.2" textLength="251" lengthAdjust="spacingAndGlyphs">Instantly break out into full speed gallop across the house for</text>
<text class="t" x="3027" y="887.9" textLength="259" lengthAdjust="spacingAndGlyphs">no reason hopped up on catnip, and eat grass, throw it back up,</text>
<text class="t" x="3029" y="897.5" textLength="254.6" lengthAdjust="spacingAndGlyphs">plan steps for world domination intrigued by the shower when</text>

<rect class="f" x="2898.7" y="946.7" width="27.6" height="43.3"/>
<rect class="f" x="3147" y="946.7" width="28" height="43.3"/>
<rect class="f" x="2898.7" y="1027.7" width="27.6" height="44"/>
<rect class="f" x="3147" y="1027.7" width="28" height="44"/>
<text class="h" x="2935" y="953" font-size="10.5" textLength="181.7" lengthAdjust="spacingAndGlyphs">INCREASE ON-TIME PERFORMANCE</text>
<text class="h" x="3182" y="953" font-size="10.5" textLength="71" lengthAdjust="spacingAndGlyphs">LOWER RATES</text>
<text class="h" x="2935" y="1034.8" font-size="10.5" textLength="110" lengthAdjust="spacingAndGlyphs">SEASONAL BUSINESS</text>
<text class="h" x="3182" y="1034.8" font-size="10.5" textLength="190.5" lengthAdjust="spacingAndGlyphs">FULL SERVICE BROKERAGE DIVISION</text>
<text class="t" x="2935" y="969" textLength="138" lengthAdjust="spacingAndGlyphs">Instantly break out into full speed</text>
<text class="t" x="2935" y="978.5" textLength="152" lengthAdjust="spacingAndGlyphs">gallop across the house for no reason</text>
<text class="t" x="2935" y="988" textLength="145" lengthAdjust="spacingAndGlyphs">hopped up on catnip, and eat grass,</text>
<text class="t" x="3182" y="969" textLength="138" lengthAdjust="spacingAndGlyphs">Instantly break out into full speed</text>
<text class="t" x="3182" y="978.5" textLength="152" lengthAdjust="spacingAndGlyphs">gallop across the house for no reason</text>
<text class="t" x="3182" y="988" textLength="145" lengthAdjust="spacingAndGlyphs">hopped up on catnip, and eat grass,</text>
<text class="t" x="2935" y="1051" textLength="138" lengthAdjust="spacingAndGlyphs">Instantly break out into full speed</text>
<text class="t" x="2935" y="1060.3" textLength="152" lengthAdjust="spacingAndGlyphs">gallop across the house for no reason</text>
<text class="t" x="2935" y="1069.5" textLength="145" lengthAdjust="spacingAndGlyphs">hopped up on catnip, and eat grass,</text>
<text class="t" x="3182" y="1051" textLength="138" lengthAdjust="spacingAndGlyphs">Instantly break out into full speed</text>
<text class="t" x="3182" y="1060.3" textLength="152" lengthAdjust="spacingAndGlyphs">gallop across the house for no reason</text>
<text class="t" x="3182" y="1069.5" textLength="145" lengthAdjust="spacingAndGlyphs">hopped up on catnip, and eat grass,</text>

<text class="h" x="3016.6" y="1212" font-size="23.7" textLength="254.6" lengthAdjust="spacingAndGlyphs">YARD MANAGEMENT</text>
<rect class="f" x="3144" y="1233" width="25" height="2"/>
<text class="t" x="2969.6" y="1257.5" textLength="351.6" lengthAdjust="spacingAndGlyphs">Instantly break out into full speed gallop across the house for no reason hopped up on</text>
<text class="t" x="2966.6" y="1266.5" textLength="358" lengthAdjust="spacingAndGlyphs">catnip, and eat grass, throw it back up, plan steps for world domination intrigued by the</text>
<text class="t" x="2964" y="1276.3" textLength="363.2" lengthAdjust="spacingAndGlyphs">shower when in doubt, wash. Scratch Instantly break out into full speed gallop across the</text>
<text class="t" x="2966.6" y="1286" textLength="358" lengthAdjust="spacingAndGlyphs">house for no reason hopped up on catnip, and eat grass, throw it back up, plan steps for</text>
<text class="t" x="2999" y="1295.2" textLength="293" lengthAdjust="spacingAndGlyphs">world domination intrigued by the shower when in doubt, wash. Scratch</text>
<text class="t" x="2969.6" y="1343.5" textLength="351.6" lengthAdjust="spacingAndGlyphs">Instantly break out into full speed gallop across the house for no reason hopped up on</text>
<text class="t" x="2966.6" y="1353.5" textLength="358" lengthAdjust="spacingAndGlyphs">catnip, and eat grass, throw it back up, plan steps for world domination intrigued by the</text>

<circle class="f" cx="2992.6" cy="1398" r="8.2"/>
<circle class="f" cx="3156.7" cy="1398" r="8.2"/>
<circle class="f" cx="3320.8" cy="1398" r="8.2"/>
<text class="t" x="2936.6" y="1423.5" textLength="112" lengthAdjust="spacingAndGlyphs">Instantly break out into full</text>
<text class="t" x="2931.6" y="1433.5" textLength="122" lengthAdjust="spacingAndGlyphs">speed gallop across the house</text>
<text class="t" x="2936.1" y="1443" textLength="113" lengthAdjust="spacingAndGlyphs">for no reason hopped up on</text>
<text class="t" x="2932.1" y="1452.5" textLength="121" lengthAdjust="spacingAndGlyphs">catnip, and eat grass, throw it</text>
<text class="t" x="3100.7" y="1423.5" textLength="112" lengthAdjust="spacingAndGlyphs">Instantly break out into full</text>
<text class="t" x="3095.7" y="1433.5" textLength="122" lengthAdjust="spacingAndGlyphs">speed gallop across the house</text>
<text class="t" x="3100.2" y="1443" textLength="113" lengthAdjust="spacingAndGlyphs">for no reason hopped up on</text>
<text class="t" x="3096.2" y="1452.5" textLength="121" lengthAdjust="spacingAndGlyphs">catnip, and eat grass, throw it</text>
<text class="t" x="3264.8" y="1423.5" textLength="112" lengthAdjust="spacingAndGlyphs">Instantly break out into full</text>
<text class="t" x="3259.8" y="1433.5" textLength="122" lengthAdjust="spacingAndGlyphs">speed gallop across the house</text>
<text class="t" x="3264.3" y="1443" textLength="113" lengthAdjust="spacingAndGlyphs">for no reason hopped up on</text>
<text class="t" x="3260.3" y="1452.5" textLength="121" lengthAdjust="spacingAndGlyphs">catnip, and eat grass, throw it</text>

<!-- service footer -->
<rect class="b" x="2915" y="1522" width="87" height="41.6"/>
<text class="h" x="2935.5" y="1548.5" font-size="16" textLength="46" lengthAdjust="spacingAndGlyphs">LOGO</text>
<text class="ft" x="2915" y="1586.5" textLength="111" lengthAdjust="spacingAndGlyphs">Instantly break out into full</text>
<text class="ft" x="2915" y="1596" textLength="122" lengthAdjust="spacingAndGlyphs">speed gallop across the house</text>
<text class="ft" x="2915" y="1605.5" textLength="113" lengthAdjust="spacingAndGlyphs">for no reason hopped up on</text>
<text class="ft" x="2915" y="1615" textLength="121" lengthAdjust="spacingAndGlyphs">catnip, and eat grass, throw it</text>
<text class="ft" x="2915" y="1624.5" textLength="117" lengthAdjust="spacingAndGlyphs">back up, plan steps for world</text>
<text class="ft" x="2915" y="1634.5" textLength="115" lengthAdjust="spacingAndGlyphs">domination intrigued by the</text>
<text class="ft" x="2915" y="1643.5" textLength="118" lengthAdjust="spacingAndGlyphs">shower when in doubt, wash.</text>
<text class="ft" x="2915" y="1653.5" textLength="29" lengthAdjust="spacingAndGlyphs">Scratch</text>
<text class="h" x="3075" y="1547.5" font-size="16" textLength="103.4" lengthAdjust="spacingAndGlyphs">BLOG POSTS</text>
<text class="h" x="3237.5" y="1547.5" font-size="16" textLength="47.5" lengthAdjust="spacingAndGlyphs">NEWS</text>
<path class="x" d="M3074.5 1571h33v33.5h-33zl33 33.5m0-33.5l-33 33.5"/>
<path class="x" d="M3074.5 1616h33v33.5h-33zl33 33.5m0-33.5l-33 33.5"/>
<text class="ft" x="3116" y="1584.3" textLength="96" lengthAdjust="spacingAndGlyphs">Instantly break out into</text>
<text class="ft" x="3116" y="1594" textLength="96" lengthAdjust="spacingAndGlyphs">full speed gallop across</text>
<text class="ft" x="3116" y="1627.5" textLength="96" lengthAdjust="spacingAndGlyphs">Instantly break out into</text>
<text class="ft" x="3116" y="1637.5" textLength="96" lengthAdjust="spacingAndGlyphs">full speed gallop across</text>
<text class="ft" x="3239" y="1584.3" textLength="96" lengthAdjust="spacingAndGlyphs">Instantly break out into</text>
<text class="ft" x="3239" y="1594" textLength="96" lengthAdjust="spacingAndGlyphs">full speed gallop across</text>
<text class="ft" x="3239" y="1627.5" textLength="96" lengthAdjust="spacingAndGlyphs">Instantly break out into</text>
<text class="ft" x="3239" y="1637.5" textLength="96" lengthAdjust="spacingAndGlyphs">full speed gallop across</text>

<text class="lab" transform="translate(3568,1703.8) rotate(-90)" font-size="34.5" textLength="204" lengthAdjust="spacingAndGlyphs">Service Page</text>
</svg>
</body>
</html>
